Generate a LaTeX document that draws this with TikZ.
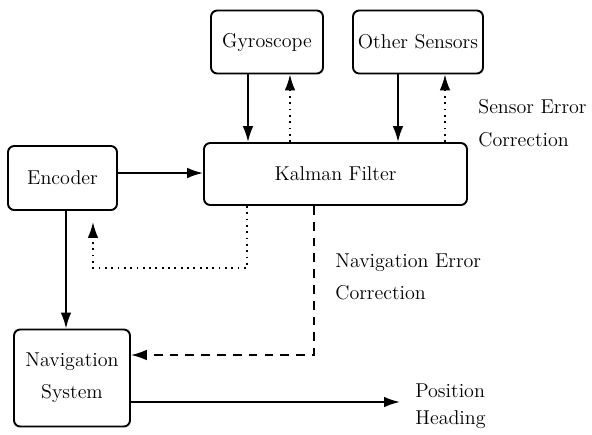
\documentclass[tikz,border=0pt]{standalone}
\usetikzlibrary{arrows.meta}

\tikzset{
  block/.style={draw, rounded corners=3.5pt, line width=1.1pt, align=center,
    inner sep=0pt, font=\fontsize{11.4}{18}\selectfont},
  flow/.style={line width=1.1pt, -{Latex[length=9pt,width=6pt]}},
  dotflow/.style={flow, line width=1pt, dash pattern=on 1pt off 2.6pt},
  dashflow/.style={flow, line width=0.9pt, dash pattern=on 5pt off 4pt},
  note/.style={anchor=west, align=left, inner sep=0pt, font=\fontsize{11.4}{18.5}\selectfont}
}

\begin{document}
\begin{tikzpicture}[x=0.02cm, y=-0.02cm]
  \useasboundingbox (0,0) rectangle (592,434);

  % blocks
  \node[block, minimum width=2.24cm, minimum height=1.26cm] (gyro)    at (267,42)    {Gyroscope};
  \node[block, minimum width=2.6cm,  minimum height=1.26cm] (other)   at (418,42)    {Other Sensors};
  \node[block, minimum width=5.26cm, minimum height=1.24cm] (kalman)  at (335.5,174) {Kalman Filter};
  \node[block, minimum width=2.18cm, minimum height=1.28cm] (encoder) at (62.5,178)  {Encoder};
  \node[block, minimum width=2.32cm, minimum height=1.94cm] (nav)     at (72,378)    {Navigation\\System};

  % labels
  \node[note] (sensorerr) at (478,123) {Sensor Error\\Correction};
  \node[note] (naverr)    at (335,277) {Navigation Error\\Correction};
  \node[note, font=\fontsize{11.4}{15.5}\selectfont] (outputs) at (415,406) {Position\\Heading};

  % measurements into the filter
  \draw[flow] (gyro.south -| 248,0)  -- (kalman.north -| 248,0);
  \draw[flow] (other.south -| 398,0) -- (kalman.north -| 398,0);
  \draw[flow] (encoder.east |- 0,173) -- (kalman.west |- 0,173);
  \draw[flow] (encoder.south -| 66,0) -- (nav.north -| 66,0);

  % corrections fed back
  \draw[dotflow] (kalman.north -| 290,0) -- (gyro.south -| 290,0);
  \draw[dotflow] (kalman.north -| 445,0) -- (other.south -| 445,0);
  \coordinate (encfb) at (93,222);
  \draw[dotflow] (kalman.south -| 247,0) -- (247,268) -| (encfb);
  \draw[dashflow] (kalman.south -| 314,0) |- (nav.east |- 0,355);

  % output
  \coordinate (outend) at (400,402);
  \draw[flow] (nav.east |- outend) -- (outend);
\end{tikzpicture}
\end{document}
